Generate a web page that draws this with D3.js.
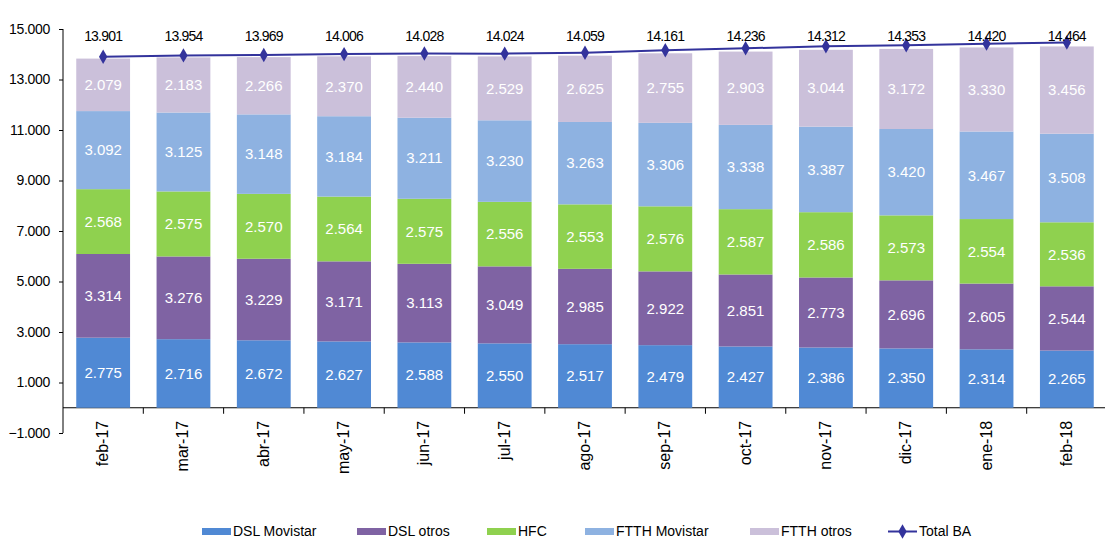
<!DOCTYPE html>
<html>
<head>
<meta charset="utf-8">
<script src="https://cdn.jsdelivr.net/npm/d3@7"></script>
<style>
  body { margin: 0; background: #fff; }
  svg { display: block; font-family: "Liberation Sans", Arial, sans-serif; }
  .axis path, .axis line { stroke: #000; }
  .axis text { font-size: 14px; fill: #000; letter-spacing: -0.3px; }
</style>
</head>
<body>
<svg id="chart" width="1105" height="541"></svg>
<script>
const months = ["feb-17", "mar-17", "abr-17", "may-17", "jun-17", "jul-17", "ago-17",
    "sep-17", "oct-17", "nov-17", "dic-17", "ene-18", "feb-18"]

const dslMovistar = [2775, 2716, 2672, 2627, 2588, 2550, 2517, 2479, 2427, 2386, 2350, 2314, 2265]
const dslOtros = [3314, 3276, 3229, 3171, 3113, 3049, 2985, 2922, 2851, 2773, 2696, 2605, 2544]
const hfc = [2568, 2575, 2570, 2564, 2575, 2556, 2553, 2576, 2587, 2586, 2573, 2554, 2536]
const ftthMovistar = [3092, 3125, 3148, 3184, 3211, 3230, 3263, 3306, 3338, 3387, 3420, 3467, 3508]
const ftthOtros = [2079, 2183, 2266, 2370, 2440, 2529, 2625, 2755, 2903, 3044, 3172, 3330, 3456]
const totalBA = [13901, 13954, 13969, 14006, 14028, 14024, 14059, 14161, 14236, 14312, 14353, 14420, 14464]

const yTicks = [-1000, 1000, 3000, 5000, 7000, 9000, 11000, 13000, 15000]

const seriesNames = ["DSL Movistar", "DSL otros", "HFC", "FTTH Movistar", "FTTH otros"]
const seriesValues = [dslMovistar, dslOtros, hfc, ftthMovistar, ftthOtros]
const colours = ["#5089d4", "#7f63a3", "#8fd14f", "#8eb2e1", "#cbc0da"]
const lineColour = "#33339c"

const locale = d3.formatLocale({ decimal: ",", thousands: ".", grouping: [3], currency: ["", "€"] })
const fmt = locale.format(",d")

const svg = d3.select("#chart")

const x = d3.scaleBand().domain(months).range([63, 1107]).paddingInner(0.33).paddingOuter(0.165)
const y = d3.scaleLinear().domain([-1000, 15000]).range([433, 29])

// stack table
const table = months.map((m, i) => {
    const row = { month: m }
    seriesNames.forEach((s, k) => (row[s] = seriesValues[k][i]))
    return row
})
const stacked = d3.stack().keys(seriesNames)(table)

// x axis at zero, ticks between categories
const boundaries = d3.range(1, months.length).map((i) => 63 + i * x.step())
const xAxis = svg.append("g").attr("class", "axis")
xAxis.append("line")
    .attr("x1", 63).attr("x2", 1105)
    .attr("y1", y(0)).attr("y2", y(0))
xAxis.selectAll("line.tk")
    .data(boundaries)
    .join("line")
    .attr("class", "tk")
    .attr("x1", (d) => d).attr("x2", (d) => d)
    .attr("y1", y(0)).attr("y2", y(0) + 6)

// y axis
svg.append("g")
    .attr("class", "axis")
    .attr("transform", "translate(63,0)")
    .call(d3.axisLeft(y).tickValues(yTicks).tickFormat(fmt).tickSize(4).tickPadding(9))
    .call((g) => g.select(".domain").attr("d", `M0,${y(-1000)}V${y(15000)}`))

// bars
const layer = svg.append("g")
    .selectAll("g")
    .data(stacked)
    .join("g")
    .attr("fill", (d, i) => colours[i])

layer.selectAll("rect")
    .data((d) => d)
    .join("rect")
    .attr("x", (d) => x(d.data.month))
    .attr("width", x.bandwidth())
    .attr("y", (d) => y(d[1]))
    .attr("height", (d) => y(d[0]) - y(d[1]))

layer.selectAll("text")
    .data((d) => d.map((p) => ({ p, key: d.key })))
    .join("text")
    .attr("x", (d) => x(d.p.data.month) + x.bandwidth() / 2)
    .attr("y", (d) => (y(d.p[0]) + y(d.p[1])) / 2)
    .attr("dy", "0.35em")
    .attr("text-anchor", "middle")
    .attr("fill", "#fff")
    .style("font-size", "15px")
    .text((d) => fmt(d.p.data[d.key]))

// x labels
svg.append("g")
    .selectAll("text")
    .data(months)
    .join("text")
    .attr("transform", (d) => `translate(${x(d) + x.bandwidth() / 2 + 5},${y(0) + 13}) rotate(-90)`)
    .attr("text-anchor", "end")
    .style("font-size", "16px")
    .text((d) => d)

// total line
const pts = totalBA.map((v, i) => ({ m: months[i], v }))
svg.append("path")
    .datum(pts)
    .attr("fill", "none")
    .attr("stroke", lineColour)
    .attr("stroke-width", 2)
    .attr("d", d3.line().x((d) => x(d.m) + x.bandwidth() / 2).y((d) => y(d.v)))

const diamond = d3.symbol().type(d3.symbolDiamond).size(60)
svg.append("g")
    .selectAll("path")
    .data(pts)
    .join("path")
    .attr("d", diamond)
    .attr("fill", lineColour)
    .attr("transform", (d) => `translate(${x(d.m) + x.bandwidth() / 2},${y(d.v)})`)

svg.append("g")
    .selectAll("text")
    .data(pts)
    .join("text")
    .attr("x", (d) => x(d.m) + x.bandwidth() / 2)
    .attr("y", 41)
    .attr("text-anchor", "middle")
    .style("font-size", "14px")
    .style("letter-spacing", "-0.8px")
    .text((d) => fmt(d.v))

// legend
const legendX = [202, 357, 487, 585, 750]
const legend = svg.append("g")
seriesNames.forEach((s, i) => {
    legend.append("rect")
        .attr("x", legendX[i]).attr("y", 528)
        .attr("width", 29).attr("height", 7)
        .attr("fill", colours[i])
    legend.append("text")
        .attr("x", legendX[i] + 31).attr("y", 536)
        .style("font-size", "14px")
        .text(s)
})
legend.append("line")
    .attr("x1", 888).attr("x2", 917)
    .attr("y1", 531.5).attr("y2", 531.5)
    .attr("stroke", lineColour).attr("stroke-width", 2)
legend.append("path")
    .attr("d", diamond)
    .attr("fill", lineColour)
    .attr("transform", "translate(902.5,531.5)")
legend.append("text")
    .attr("x", 919).attr("y", 536)
    .style("font-size", "14px")
    .text("Total BA")
</script>
</body>
</html>
